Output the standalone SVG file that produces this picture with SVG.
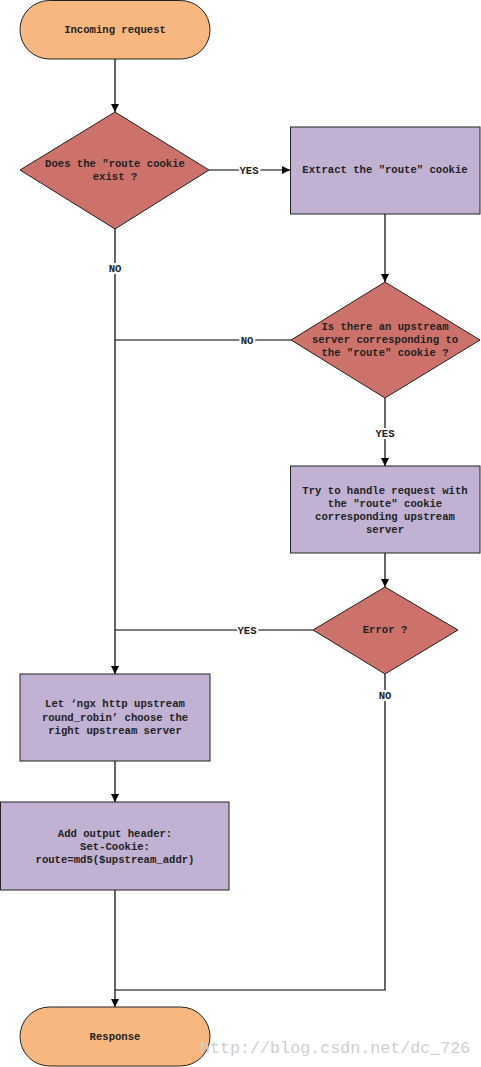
<svg xmlns="http://www.w3.org/2000/svg" width="481" height="1067" viewBox="0 0 481 1067">
<style>
text{font-family:"Liberation Mono","Courier New",monospace;font-size:10.6px;font-weight:bold;fill:#222;text-anchor:middle}
.term{fill:#f7b77e;stroke:#222;stroke-width:1}
.dec{fill:#cd726b;stroke:#222;stroke-width:1}
.proc{fill:#c1b1d3;stroke:#222;stroke-width:1}
.edge{fill:none;stroke:#000;stroke-width:1.2}
.lbl{paint-order:stroke;stroke:#fff;stroke-width:4px;fill:#222}
.wm{font-family:"Liberation Mono",monospace;font-size:16.7px;font-weight:normal;fill:#cfcfcf;text-anchor:start}
</style>
<defs>
<marker id="arr" viewBox="0 0 8 8" refX="8" refY="4" markerWidth="8" markerHeight="8" markerUnits="userSpaceOnUse" orient="auto">
<path d="M0,0 L8,4 L0,8 z" fill="#000"/>
</marker>
</defs>
<g id="connectors">
<path class="edge" d="M115,59 V112" marker-end="url(#arr)"/>
<path class="edge" d="M209,170 H290" marker-end="url(#arr)"/>
<path class="edge" d="M385,214 V282" marker-end="url(#arr)"/>
<path class="edge" d="M115,229 V674" marker-end="url(#arr)"/>
<path class="edge" d="M291,340 H115"/>
<path class="edge" d="M385,398 V466" marker-end="url(#arr)"/>
<path class="edge" d="M385,553 V587" marker-end="url(#arr)"/>
<path class="edge" d="M313,630 H115"/>
<path class="edge" d="M385,674 V990 H115"/>
<path class="edge" d="M115,761 V802" marker-end="url(#arr)"/>
<path class="edge" d="M115,890 V1007" marker-end="url(#arr)"/>
<text class="lbl" x="249" y="174">YES</text>
<text class="lbl" x="115" y="272">NO</text>
<text class="lbl" x="247" y="344">NO</text>
<text class="lbl" x="385" y="437">YES</text>
<text class="lbl" x="247" y="634">YES</text>
<text class="lbl" x="385" y="699">NO</text>
</g>
<g id="start">
<rect class="term" x="20" y="0.5" width="190" height="58.5" rx="29.5" ry="29.5"/>
<text x="115" y="33">Incoming request</text>
</g>
<g id="cookie-exists">
<path class="dec" d="M115,112 L209,170 L115,229 L20,170 Z"/>
<text x="115" y="167">Does the "route cookie</text>
<text x="115" y="180">exist ?</text>
</g>
<g id="extract-cookie">
<rect class="proc" x="290.5" y="127" width="189.5" height="87"/>
<text x="385" y="173">Extract the "route" cookie</text>
</g>
<g id="upstream-exists">
<path class="dec" d="M385,282 L480,340 L385,398 L291,340 Z"/>
<text x="385" y="330">Is there an upstream</text>
<text x="385" y="343">server corresponding to</text>
<text x="385" y="356">the "route" cookie ?</text>
</g>
<g id="try-handle">
<rect class="proc" x="290.5" y="466" width="189.5" height="87"/>
<text x="385" y="494">Try to handle request with</text>
<text x="385" y="507">the "route" cookie</text>
<text x="385" y="520">corresponding upstream</text>
<text x="385" y="533">server</text>
</g>
<g id="error">
<path class="dec" d="M385,587 L458,630 L385,674 L313,630 Z"/>
<text x="385" y="633">Error ?</text>
</g>
<g id="round-robin">
<rect class="proc" x="20" y="674" width="190" height="87"/>
<text x="115" y="707">Let ‘ngx http upstream</text>
<text x="115" y="721">round_robin’ choose the</text>
<text x="115" y="734">right upstream server</text>
</g>
<g id="set-cookie">
<rect class="proc" x="0.5" y="802" width="228.5" height="88"/>
<text x="115" y="837">Add output header:</text>
<text x="115" y="850">Set-Cookie:</text>
<text x="115" y="863">route=md5($upstream_addr)</text>
</g>
<g id="response">
<rect class="term" x="20" y="1007" width="190" height="59" rx="29.5" ry="29.5"/>
<text x="115" y="1040">Response</text>
</g>
<text class="wm" x="200" y="1053">http://blog.csdn.net/dc_726</text>
</svg>
